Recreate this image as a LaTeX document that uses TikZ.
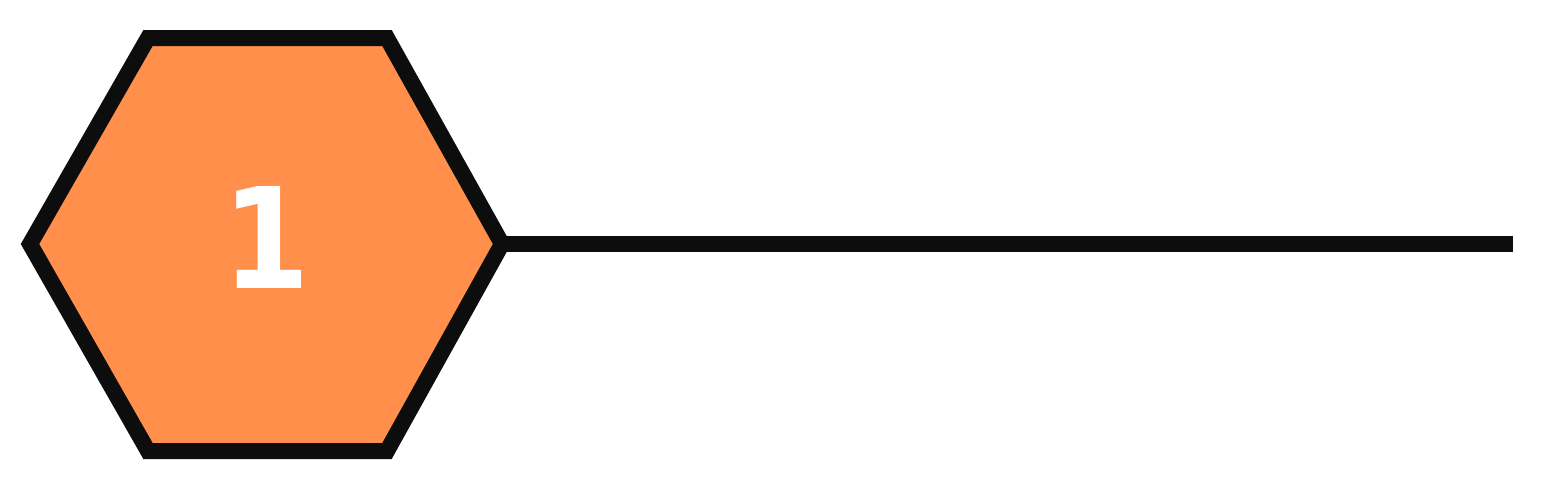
\documentclass[tikz,border=0pt]{standalone}
\usepackage{fontspec}
\newfontfamily\numfont[FakeStretch=0.9]{DejaVu Sans}
\definecolor{hexfill}{HTML}{FF8F4A}
\definecolor{ink}{HTML}{0D0D0D}
\tikzset{
  hexbox/.style={draw=ink, fill=hexfill, line width=16pt, line join=miter},
  connector/.style={draw=ink, line width=16pt, line cap=butt},
  numlabel/.style={text=white, font=\fontsize{140}{140}\selectfont\numfont\bfseries, inner sep=0pt, anchor=base}
}
\begin{document}
\begin{tikzpicture}[x=1pt, y=-1pt]
\useasboundingbox (0,0) rectangle (1552,483);
\coordinate (hL) at (30,244);
\coordinate (hTL) at (148,38);
\coordinate (hTR) at (387,38);
\coordinate (hR) at (502,244);
\coordinate (hBR) at (387,451);
\coordinate (hBL) at (148,451);
\coordinate (lineEnd) at (1513,244);
\draw[connector] (hR) -- (lineEnd);
\draw[hexbox] (hL) -- (hTL) -- (hTR) -- (hR) -- (hBR) -- (hBL) -- cycle;
\node[numlabel] (num) at (266.5,288) {1};
\end{tikzpicture}
\end{document}
